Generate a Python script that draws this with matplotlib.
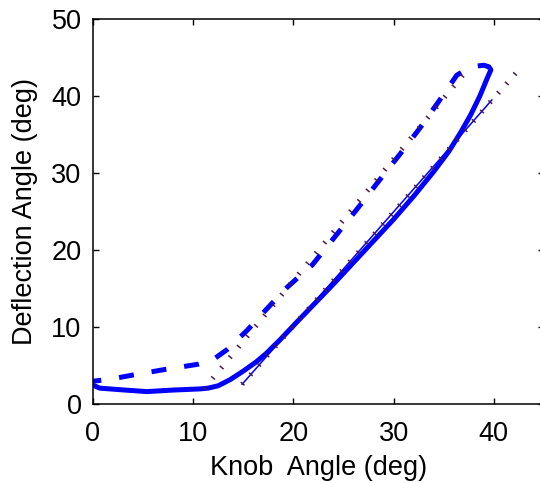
"""
Knob angle vs deflection angle: measured loading/unloading and model lines
"""

import matplotlib
matplotlib.use("Agg")
import matplotlib.pyplot as plt

plt.rcParams['font.family'] = ['Liberation Sans', 'DejaVu Sans']

# measured, knob turned up (solid)
load_knob = [0, 0.7, 2.7, 5.4, 8.0, 10.7, 11.5, 12.5, 13.7, 15.0, 16.3, 17.3, 18.7,
             20.3, 22.0, 24.0, 26.0, 28.0, 30.0, 32.0, 34.0, 35.5, 36.7, 37.7,
             38.6, 39.3, 39.7]
load_defl = [2.5, 2.1, 1.9, 1.65, 1.85, 2.0, 2.1, 2.4, 3.2, 4.3, 5.5, 6.6, 8.4,
             10.6, 12.9, 15.6, 18.4, 21.2, 24.0, 27.0, 30.2, 32.8, 35.3, 37.6,
             40.0, 42.2, 43.4]

# measured, knob turned back (dashed)
unload_knob = [39.7, 39.5, 39.0, 38.3, 37.3, 36.3, 34.5, 32.6, 30.6, 28.6, 26.7, 24.0,
               21.9, 19.4, 17.3, 15.4, 13.4, 12.0, 10.5, 7.1, 4.0, 1.5, 0]
unload_defl = [43.4, 43.8, 44.0, 43.9, 43.5, 42.7, 39.3, 35.8, 32.4, 29.1, 25.9, 21.5,
               18.1, 15.2, 12.3, 9.6, 7.1, 5.8, 5.2, 4.5, 3.8, 3.2, 3.0]

# model lines (dotted)
model_up_knob = [14.9, 42.2]
model_up_defl = [2.6, 43.0]
model_down_knob = [11.1, 37.4]
model_down_defl = [2.0, 43.5]

# model over the measured knob range (thin)
model_range_knob = [14.9, 39.8]
model_range_defl = [2.6, 39.5]

dark = '#4a1a45'
blue = '#0000ff'

fig = plt.figure(figsize=(5.4, 4.83), dpi=100)
ax = fig.add_axes([0.1717, 0.1629, 0.8357, 0.7977])

ax.plot(load_knob, load_defl, color=blue, lw=3.6, solid_joinstyle='round',
        solid_capstyle='round')
ax.plot(unload_knob, unload_defl, color=blue, lw=3.6, linestyle=(0, (3.0, 3.6)))
ax.plot(model_range_knob, model_range_defl, color=blue, lw=1.1)
ax.plot(model_up_knob, model_up_defl, color=dark, lw=3.6, linestyle=(0, (0.3, 2.2)))
ax.plot(model_down_knob, model_down_defl, color=dark, lw=3.6, linestyle=(0, (0.3, 2.4)))

ax.set_xlim(0, 45)
ax.set_ylim(0, 50)
ax.set_xticks([0, 10, 20, 30, 40])
ax.set_yticks([0, 10, 20, 30, 40, 50])
ax.tick_params(direction='in', length=4, width=1.0, labelsize=19.5, pad=8,
               top=True, right=True)
ax.tick_params(axis='x', pad=12)
for s in ax.spines.values():
    s.set_linewidth(1.1)

ax.set_xlabel("Knob  Angle (deg)", fontsize=19.5, labelpad=6)
ax.set_ylabel("Deflection Angle (deg)", fontsize=19.5)
ax.yaxis.set_label_coords(-0.121, 0.5)

fig.savefig("out.png", dpi=100)
